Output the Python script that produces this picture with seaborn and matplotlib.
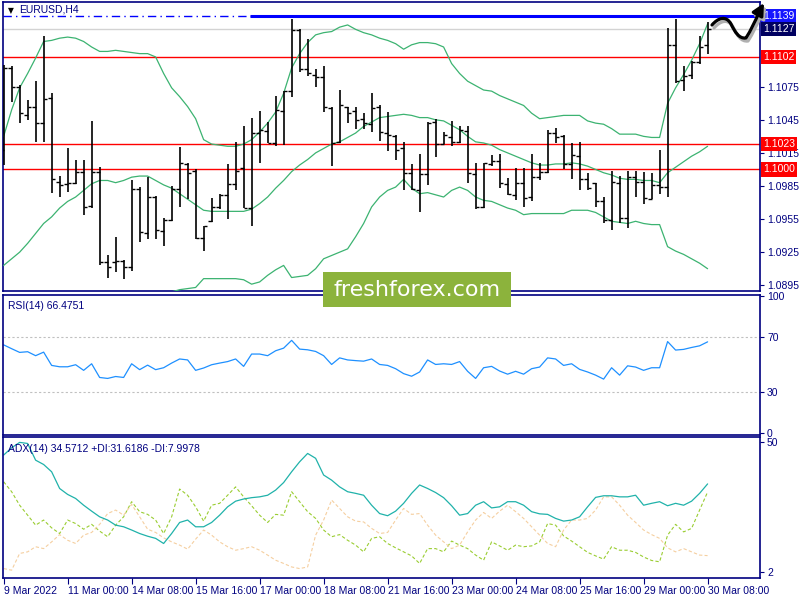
import numpy as np
import matplotlib
matplotlib.use("Agg")
import matplotlib.pyplot as plt
from matplotlib.patches import Rectangle, FancyArrowPatch
from matplotlib.path import Path
from matplotlib.transforms import blended_transform_factory
import seaborn as sns

# EURUSD H4 bars
open_ = [1.1018, 1.1092, 1.1075, 1.1049, 1.1057, 1.1042, 1.1065, 1.0989, 1.0987, 1.0988,
         1.0998, 1.0967, 1.0998, 1.0916, 1.0916, 1.0917, 1.0912, 1.0982, 1.0942, 1.0975,
         1.0944, 1.0954, 1.0982, 1.1005, 1.0999, 1.0938, 1.0953, 1.0966, 1.0977, 1.0987,
         1.1001, 1.0965, 1.1033, 1.1035, 1.1024, 1.1053, 1.1071, 1.1126, 1.1091, 1.1086,
         1.1084, 1.1056, 1.1025, 1.1057, 1.1053, 1.1046, 1.1041, 1.1057, 1.1033, 1.1030,
         1.1019, 1.0997, 1.0981, 1.0996, 1.1043, 1.1023, 1.1029, 1.1025, 1.1035, 1.0996,
         1.0966, 1.1005, 1.1008, 1.0987, 1.0977, 1.0988, 1.0975, 1.0993, 1.0998, 1.1033,
         1.1030, 1.1005, 1.1012, 1.0991, 1.0988, 1.0971, 1.0954, 1.0988, 1.0956, 1.0993,
         1.0989, 1.0973, 1.0986, 1.0984, 1.1113, 1.1081, 1.1086, 1.1097, 1.1113]
high = [1.1095, 1.1094, 1.1077, 1.1063, 1.1080, 1.1121, 1.1069, 1.0994, 1.1019, 1.1009,
        1.1009, 1.1044, 1.1002, 1.0922, 1.0939, 1.0918, 1.0990, 1.0984, 1.0993, 1.0976,
        1.0956, 1.0985, 1.1020, 1.1006, 1.1000, 1.0949, 1.0974, 1.0978, 1.1005, 1.1025,
        1.1039, 1.1047, 1.1053, 1.1043, 1.1067, 1.1071, 1.1136, 1.1127, 1.1118, 1.1091,
        1.1094, 1.1057, 1.1072, 1.1057, 1.1057, 1.1051, 1.1069, 1.1058, 1.1052, 1.1031,
        1.1025, 1.1005, 1.1014, 1.1043, 1.1046, 1.1034, 1.1044, 1.1039, 1.1039, 1.1006,
        1.1006, 1.1013, 1.1014, 1.0992, 1.1001, 1.1001, 1.1014, 1.1006, 1.1036, 1.1038,
        1.1031, 1.1024, 1.1025, 1.0997, 1.0988, 1.0975, 1.0999, 1.0994, 1.0999, 1.0999,
        1.0998, 1.0997, 1.1018, 1.1128, 1.1136, 1.1094, 1.1098, 1.1121, 1.1134]
low = [1.1004, 1.1061, 1.1042, 1.1045, 1.1025, 1.1025, 1.0979, 1.0975, 1.0980, 1.0987,
       1.0959, 1.0965, 1.0913, 1.0902, 1.0907, 1.0901, 1.0908, 1.0934, 1.0937, 1.0937,
       1.0931, 1.0953, 1.0966, 1.0973, 1.0937, 1.0926, 1.0952, 1.0964, 1.0955, 1.0981,
       1.0965, 1.0949, 1.1006, 1.1024, 1.1021, 1.1022, 1.1066, 1.1088, 1.1085, 1.1075,
       1.1052, 1.1003, 1.1024, 1.1042, 1.1037, 1.1037, 1.1034, 1.1026, 1.1017, 1.1009,
       1.0981, 1.0981, 1.0961, 1.0986, 1.1011, 1.1023, 1.1021, 1.1024, 1.0988, 1.0964,
       1.0965, 1.1003, 1.0983, 1.0977, 1.0972, 1.0966, 1.0971, 1.0990, 1.0997, 1.1024,
       1.1000, 1.0991, 1.0981, 1.0981, 1.0966, 1.0951, 1.0945, 1.0951, 1.0947, 1.0975,
       1.0969, 1.0973, 1.0978, 1.0975, 1.1078, 1.1071, 1.1082, 1.1096, 1.1105]
close = [1.1092, 1.1075, 1.1051, 1.1057, 1.1042, 1.1064, 1.0991, 1.0986, 1.0988, 1.0998,
         1.0966, 1.0998, 1.0916, 1.0912, 1.0917, 1.0912, 1.0982, 1.0943, 1.0975, 1.0945,
         1.0954, 1.0982, 1.1006, 1.0997, 1.0938, 1.0949, 1.0966, 1.0977, 1.0987, 1.0999,
         1.0965, 1.1033, 1.1036, 1.1024, 1.1054, 1.1071, 1.1126, 1.1091, 1.1087, 1.1084,
         1.1057, 1.1024, 1.1058, 1.1051, 1.1045, 1.1042, 1.1056, 1.1034, 1.1031, 1.1018,
         1.0997, 1.0982, 1.0996, 1.1042, 1.1023, 1.1031, 1.1025, 1.1036, 1.0997, 1.0966,
         1.1006, 1.1008, 1.0988, 1.0978, 1.0988, 1.0974, 1.0993, 1.0998, 1.1033, 1.1029,
         1.1005, 1.1013, 1.0991, 1.0983, 1.0971, 1.0954, 1.0989, 1.0956, 1.0993, 1.0989,
         1.0974, 1.0986, 1.0984, 1.1113, 1.1080, 1.1085, 1.1097, 1.1111, 1.1127]

# Bollinger bands (20, 2)
bb_upper = [1.1030, 1.1054, 1.1074, 1.1087, 1.1101, 1.1116, 1.1117, 1.1119, 1.1120, 1.1119,
            1.1116, 1.1111, 1.1107, 1.1107, 1.1108, 1.1107, 1.1106, 1.1105, 1.1105, 1.1102,
            1.1087, 1.1074, 1.1066, 1.1057, 1.1046, 1.1027, 1.1023, 1.1022, 1.1021, 1.1021,
            1.1023, 1.1027, 1.1034, 1.1042, 1.1052, 1.1069, 1.1092, 1.1105, 1.1115, 1.1122,
            1.1124, 1.1125, 1.1129, 1.1131, 1.1127, 1.1124, 1.1122, 1.1119, 1.1117, 1.1114,
            1.1109, 1.1113, 1.1115, 1.1115, 1.1114, 1.1111, 1.1096, 1.1087, 1.1080, 1.1076,
            1.1072, 1.1071, 1.1067, 1.1064, 1.1061, 1.1058, 1.1051, 1.1046, 1.1047, 1.1048,
            1.1049, 1.1049, 1.1049, 1.1044, 1.1042, 1.1041, 1.1037, 1.1032, 1.1032, 1.1032,
            1.1030, 1.1029, 1.1029, 1.1060, 1.1074, 1.1086, 1.1099, 1.1114, 1.1132]
bb_mid = [1.0913, 1.0919, 1.0925, 1.0933, 1.0942, 1.0951, 1.0957, 1.0965, 1.0971, 1.0975,
          1.0981, 1.0987, 1.0990, 1.0990, 1.0988, 1.0990, 1.0993, 1.0994, 1.0994, 1.0990,
          1.0986, 1.0983, 1.0978, 1.0973, 1.0968, 1.0963, 1.0962, 1.0962, 1.0962, 1.0962,
          1.0962, 1.0964, 1.0969, 1.0975, 1.0983, 1.0990, 1.0998, 1.1004, 1.1009, 1.1015,
          1.1019, 1.1023, 1.1025, 1.1029, 1.1033, 1.1039, 1.1043, 1.1047, 1.1048, 1.1049,
          1.1050, 1.1049, 1.1047, 1.1047, 1.1045, 1.1044, 1.1040, 1.1036, 1.1030, 1.1025,
          1.1024, 1.1022, 1.1018, 1.1015, 1.1012, 1.1009, 1.1006, 1.1004, 1.1004, 1.1005,
          1.1005, 1.1006, 1.1005, 1.1003, 1.1000, 1.0997, 1.0995, 1.0992, 1.0991, 1.0991,
          1.0990, 1.0990, 1.0988, 1.0997, 1.1002, 1.1007, 1.1012, 1.1016, 1.1021]
bb_lower = [1.0797, 1.0785, 1.0778, 1.0779, 1.0784, 1.0787, 1.0797, 1.0810, 1.0822, 1.0832,
            1.0847, 1.0864, 1.0872, 1.0872, 1.0868, 1.0872, 1.0879, 1.0883, 1.0883, 1.0879,
            1.0885, 1.0889, 1.0891, 1.0892, 1.0893, 1.0901, 1.0901, 1.0901, 1.0901, 1.0901,
            1.0900, 1.0896, 1.0898, 1.0904, 1.0909, 1.0913, 1.0902, 1.0903, 1.0904, 1.0910,
            1.0919, 1.0922, 1.0925, 1.0928, 1.0939, 1.0951, 1.0966, 1.0975, 1.0981, 1.0984,
            1.0991, 1.0983, 1.0978, 1.0979, 1.0977, 1.0975, 1.0981, 1.0984, 1.0981, 1.0975,
            1.0972, 1.0971, 1.0968, 1.0965, 1.0963, 1.0959, 1.0960, 1.0960, 1.0960, 1.0960,
            1.0960, 1.0963, 1.0963, 1.0963, 1.0961, 1.0957, 1.0953, 1.0952, 1.0951, 1.0953,
            1.0951, 1.0950, 1.0950, 1.0930, 1.0926, 1.0923, 1.0919, 1.0915, 1.0910]

rsi = [64.3, 61.5, 58.8, 59.3, 56.4, 59.0, 49.3, 48.3, 48.3, 49.8,
       45.7, 50.5, 40.5, 39.8, 41.2, 40.5, 50.5, 46.2, 49.5, 46.2,
       47.6, 51.0, 54.0, 53.3, 45.7, 47.4, 49.8, 51.0, 52.1, 54.0,
       48.6, 57.6, 57.6, 56.4, 60.0, 61.9, 67.6, 61.2, 60.7, 59.5,
       56.4, 50.0, 54.8, 53.3, 52.8, 52.4, 54.0, 50.0, 49.3, 46.9,
       43.3, 41.4, 44.5, 53.3, 50.0, 50.5, 50.0, 52.1, 45.0, 39.8,
       47.6, 48.6, 45.2, 42.9, 45.0, 42.9, 46.9, 48.1, 54.8, 54.0,
       49.3, 50.5, 46.4, 44.5, 42.2, 39.3, 47.6, 42.2, 49.0, 48.1,
       45.7, 47.6, 47.6, 66.7, 60.5, 61.0, 62.4, 63.6, 66.5]

adx = [45.3, 48.0, 50.0, 49.6, 43.4, 41.8, 39.1, 32.9, 30.7, 29.2,
       26.7, 24.5, 22.4, 21.2, 19.3, 18.7, 17.5, 16.2, 15.2, 14.4,
       12.5, 16.2, 20.3, 21.2, 18.7, 18.7, 20.3, 23.0, 26.1, 28.2,
       29.0, 29.5, 29.8, 30.4, 32.3, 35.1, 39.1, 42.8, 45.9, 44.1,
       37.9, 36.0, 33.5, 31.7, 31.1, 30.4, 26.7, 23.6, 22.8, 24.5,
       27.4, 31.1, 34.2, 32.9, 31.4, 29.5, 26.5, 23.0, 23.6, 26.7,
       28.0, 25.7, 26.1, 28.0, 28.0, 26.7, 24.3, 23.5, 23.3, 21.8,
       20.8, 21.2, 22.4, 26.1, 29.6, 30.2, 30.2, 29.8, 29.8, 30.4,
       26.7, 27.4, 28.0, 26.5, 27.4, 26.7, 28.2, 31.1, 34.6]
plus_di = [35.4, 31.7, 26.7, 23.0, 19.3, 21.2, 18.3, 16.2, 21.2, 19.9,
           17.8, 19.6, 17.1, 15.0, 19.3, 22.4, 28.0, 24.3, 23.3, 21.2,
           16.2, 22.4, 32.7, 30.4, 26.1, 20.8, 26.7, 27.4, 30.4, 33.5,
           29.8, 26.5, 23.0, 20.3, 23.3, 23.0, 31.7, 28.0, 24.3, 21.8,
           17.5, 15.0, 15.8, 13.7, 11.9, 9.4, 14.4, 15.0, 12.5, 10.9,
           9.4, 7.9, 5.1, 10.6, 10.6, 9.4, 13.4, 11.9, 10.6, 8.2,
           6.3, 13.1, 11.6, 10.0, 11.9, 11.3, 11.6, 13.1, 19.9, 19.3,
           15.3, 13.4, 11.3, 9.2, 7.9, 6.7, 11.3, 10.0, 10.0, 9.2,
           7.5, 6.2, 5.7, 15.6, 19.6, 16.8, 18.1, 24.9, 31.6]
minus_di = [3.2, 2.6, 8.8, 9.4, 11.3, 10.6, 13.1, 15.8, 13.7, 12.5,
            15.6, 16.6, 19.6, 23.6, 24.9, 23.0, 27.0, 22.4, 17.8, 16.6,
            14.6, 13.1, 11.9, 10.4, 14.1, 17.5, 15.6, 13.1, 11.3, 10.0,
            10.6, 11.3, 10.0, 8.2, 6.3, 5.1, 3.8, 3.2, 3.8, 15.6,
            21.2, 28.6, 25.5, 22.4, 20.8, 20.5, 18.1, 16.2, 16.6, 21.2,
            25.5, 23.3, 23.6, 19.3, 15.6, 13.1, 10.6, 11.9, 16.8, 21.2,
            24.0, 21.8, 24.5, 26.7, 24.3, 21.8, 18.7, 15.6, 12.5, 11.3,
            17.5, 21.2, 21.2, 21.8, 24.9, 29.8, 29.8, 26.7, 23.0, 20.3,
            17.5, 15.8, 14.4, 10.9, 9.4, 10.6, 9.4, 8.2, 8.0]

date_labels = ["9 Mar 2022", "11 Mar 00:00", "14 Mar 08:00", "15 Mar 16:00",
               "17 Mar 00:00", "18 Mar 08:00", "21 Mar 16:00", "23 Mar 00:00",
               "24 Mar 08:00", "25 Mar 16:00", "29 Mar 00:00", "30 Mar 08:00"]
price_ticks = [1.0895, 1.0925, 1.0955, 1.0985, 1.1015, 1.1045, 1.1075]

# marked levels: (price, box colour)
levels = [(1.1102, "#ff0000"), (1.1023, "#ff0000"), (1.1000, "#ff0000")]
resistance = 1.1139
last_price = 1.1127

NAVY = "#000080"
sns.set_style("white")
plt.rcParams["font.family"] = ["Liberation Sans Narrow", "Liberation Sans", "DejaVu Sans"]

W, H = 800, 600
fig = plt.figure(figsize=(W / 100, H / 100), dpi=100)


def rect(l, t, r, b):
    return [l / W, 1 - b / H, (r - l) / W, (b - t) / H]


ax = fig.add_axes(rect(3, 2, 760, 291))
ax_rsi = fig.add_axes(rect(3, 295, 760, 435))
ax_adx = fig.add_axes(rect(3, 437, 760, 578))

bars = np.arange(len(close))

# --- price panel ---
ax.axhline(last_price, color="#d3d3d3", lw=1, zorder=1)
for lvl, col in levels:
    ax.axhline(lvl, color=col, lw=1, zorder=1)
ax.axhline(resistance, color="#0000ff", lw=1, ls=(0, (6, 3, 1, 3)), zorder=1)
ax.hlines(resistance, 30.8, 95, color="#0000ff", lw=2.2, zorder=2)

for band in (bb_upper, bb_mid, bb_lower):
    sns.lineplot(x=bars, y=band, ax=ax, color="#3cb371", lw=0.9, zorder=3)

ax.vlines(bars, low, high, color="black", lw=1.2, zorder=4)
ax.hlines(open_, bars - 0.4, bars, color="black", lw=1.0, zorder=4)
ax.hlines(close, bars, bars + 0.4, color="black", lw=1.0, zorder=4)

ax.set_ylim(1.08898, 1.11518)
ax.set_yticks(price_ticks)
ax.set_yticklabels([f"{p:.4f}" for p in price_ticks])

trans = blended_transform_factory(ax.transAxes, ax.transData)
for lvl, col in levels + [(resistance, "#1515ff"), (last_price, "#000060")]:
    ax.text(1.004, lvl, f"{lvl:.4f}", transform=trans, ha="left", va="center",
            color="white", fontsize=7.5, zorder=6, clip_on=False,
            bbox=dict(boxstyle="square,pad=0.2", fc=col, ec="none"))

ax.text(0.007, 0.985, "\u25bc", transform=ax.transAxes, fontsize=5.5,
        color="black", va="top", ha="left", family="DejaVu Sans")
ax.text(0.021, 0.99, "EURUSD,H4", transform=ax.transAxes, fontsize=7.5,
        color=NAVY, va="top", ha="left")

# --- RSI panel ---
for lvl in (70, 30):
    ax_rsi.axhline(lvl, color="#c0c0c0", lw=0.8, ls=(0, (2, 2)))
sns.lineplot(x=bars, y=rsi, ax=ax_rsi, color="#1e90ff", lw=0.9)
ax_rsi.set_ylim(-1.5, 100.7)
ax_rsi.set_yticks([0, 30, 70, 100])
ax_rsi.text(0.007, 0.96, "RSI(14) 66.4751", transform=ax_rsi.transAxes,
            fontsize=7.5, color=NAVY, va="top", ha="left")

# --- ADX panel ---
sns.lineplot(x=bars, y=plus_di, ax=ax_adx, color="#9acd32", lw=0.8, ls=(0, (3, 2)))
sns.lineplot(x=bars, y=minus_di, ax=ax_adx, color="#f5cfa0", lw=0.8, ls=(0, (3, 2)))
sns.lineplot(x=bars, y=adx, ax=ax_adx, color="#20b2aa", lw=0.9)
ax_adx.set_ylim(-0.3, 52)
ax_adx.set_yticks([2, 50])
ax_adx.text(0.007, 0.95, "ADX(14) 34.5712 +DI:31.6186 -DI:7.9978",
            transform=ax_adx.transAxes, fontsize=7.5, color=NAVY, va="top", ha="left")

ax_adx.set_xticks(bars[::8])
ax_adx.set_xticklabels(date_labels, ha="left")

for a in (ax, ax_rsi, ax_adx):
    a.set_xlim(-0.08, 94.55)
    a.set_xlabel("")
    a.set_ylabel("")
    a.yaxis.tick_right()
    a.tick_params(axis="y", direction="out", length=3, width=0.8, color=NAVY,
                  labelcolor=NAVY, labelsize=7.5, pad=2)
    for s in a.spines.values():
        s.set_color(NAVY)
        s.set_linewidth(1.2)
    a.set_facecolor("white")
for a in (ax, ax_rsi):
    a.tick_params(axis="x", bottom=False, labelbottom=False)
ax_adx.tick_params(axis="x", direction="out", length=4, width=0.8, color=NAVY,
                   labelcolor=NAVY, labelsize=7.5, pad=2, bottom=True)

# watermark
fig.add_artist(Rectangle((323 / W, 1 - 307 / H), 188 / W, 35 / H,
                         transform=fig.transFigure, fc="#8cb33c", ec="none", zorder=5))
fig.text(417 / W, 1 - 290 / H, "freshforex.com", color="white", fontsize=16,
         ha="center", va="center", zorder=6, family="DejaVu Sans")

# hand-drawn arrow pointing up-right (with a soft shadow)
px = [(712, 25), (718, 18), (726, 15), (731, 24), (735, 32), (739, 39), (746, 38),
      (751, 30), (755, 22), (759, 12), (764, 3)]
codes = [Path.MOVETO] + [Path.CURVE4] * 9 + [Path.LINETO]
for dx, dy, col, z in ((2, 3, "#b0b0b0", 6), (0, 0, "black", 7)):
    verts = [((x + dx) / W, 1 - (y + dy) / H) for x, y in px]
    fig.add_artist(FancyArrowPatch(path=Path(verts, codes), transform=fig.transFigure,
                                   arrowstyle="-|>,head_length=7,head_width=3.5",
                                   color=col, lw=2.3, zorder=z))

fig.savefig("out.png", dpi=100, facecolor="white")
